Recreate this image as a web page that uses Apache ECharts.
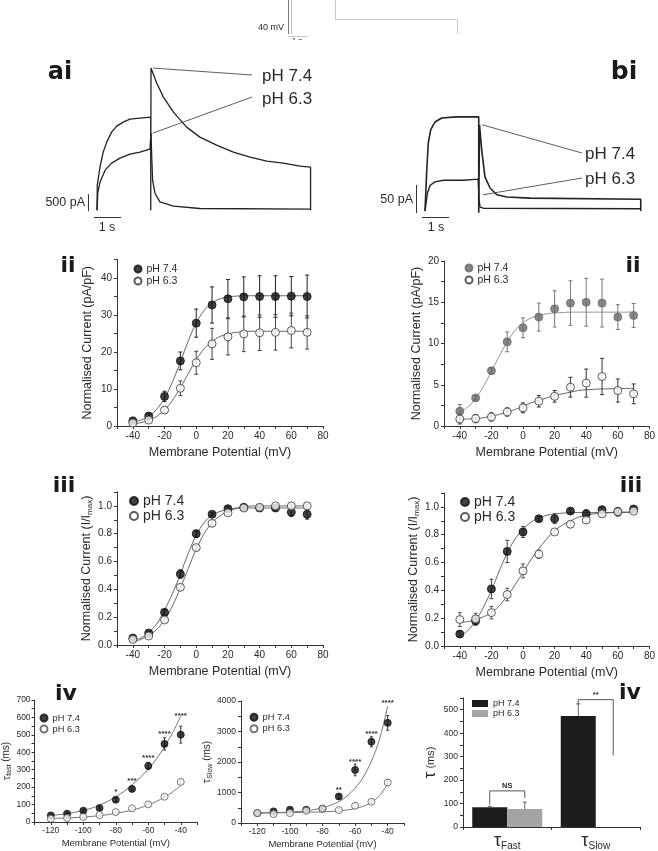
<!DOCTYPE html>
<html><head><meta charset="utf-8">
<script src="https://cdn.jsdelivr.net/npm/echarts@6/dist/echarts.min.js"></script>
<style>html,body{margin:0;padding:0;background:#fff}#c{width:658px;height:851px}</style>
</head><body><div id="c"></div>
<script>
// ---------------- DATA ----------------
// Current traces (time s, current pA)
const aiT74 = [0,0.01,0.11,0.23,0.36,0.54,0.73,0.97,1.22,1.59,1.99,1.99,2.0,2.21,2.46,2.83,3.32,3.81,4.43,5.05,5.67,6.29,6.90,7.52,7.91,7.91];
const aiI74 = [0,735,1264,1705,2000,2293,2470,2587,2675,2705,2734,0,4175,3734,3322,2881,2440,2146,1911,1705,1558,1440,1382,1294,1264,0];
const aiT63 = [0,0.03,0.11,0.30,0.54,0.85,1.22,1.59,1.96,2.0,2.03,2.06,2.15,2.33,2.83,3.81,7.91];
const aiI63 = [0,500,823,1176,1382,1529,1646,1705,1793,2264,1500,882,491,244,118,50,29];
const biT74 = [0,0.06,0.12,0.21,0.37,0.62,1.17,1.67,1.99,1.99,2.02,2.10,2.22,2.41,2.66,3.03,3.89,7.99,7.99];
const biI74 = [0,68,121,145,159,166,168,168,168,-3,154,109,61,41,29,25,23,21,0];
const biT63 = [0,0.09,0.19,0.37,0.68,1.42,1.97,2.0,2.04,2.16,7.99];
const biI63 = [0,32,46,52,55,55,57,20,7,5,4];
const aiArrowTo = [[2.07,4175],[2.07,2264]];
const biArrowTo = [[2.11,154],[2.15,29]];

// I-V data
const V = [-40,-30,-20,-10,0,10,20,30,40,50,60,70];
const VF = [-40,-35,-30,-25,-20,-15,-10,-5,0,5,10,15,20,25,30,35,40,45,50,55,60,65,70];
const iiA74 = [1.4,2.7,8.0,17.6,27.8,32.7,34.4,34.9,35.0,35.0,35.1,35.0];
const iiA74e = [0.4,0.6,1.4,2.4,3.8,4.9,5.2,5.4,5.6,5.6,5.3,5.8];
const iiA63 = [0.8,1.6,4.3,10.2,17.1,22.2,24.1,24.9,25.2,25.3,25.8,25.3];
const iiA63e = [0.3,0.4,0.8,2.0,3.1,4.2,4.9,4.8,4.8,4.8,4.7,4.5];
const iiA74fit = [1.0,1.6,2.6,4.5,7.5,11.9,17.3,23.0,27.9,31.2,33.3,34.4,34.9,35.1,35.2,35.2,35.2,35.2,35.2,35.2,35.2,35.2,35.2];
const iiA63fit = [0.5,0.9,1.5,2.6,4.3,6.9,10.3,14.2,17.9,20.9,22.9,24.2,24.9,25.3,25.5,25.6,25.6,25.6,25.6,25.6,25.6,25.6,25.6];

const iiB74 = [1.8,3.4,6.7,10.2,11.9,13.2,14.2,14.9,15.0,14.9,13.2,13.4];
const iiB74e = [0.8,0.25,0.35,1.2,1.2,1.7,2.2,2.7,2.9,2.9,1.5,1.45];
const iiB63 = [0.85,0.9,1.1,1.7,2.2,3.0,3.6,4.7,5.2,6.0,4.3,3.9];
const iiB63e = [0.6,0.5,0.5,0.5,0.6,0.7,0.7,1.2,1.7,2.2,1.4,1.2];
const iiB74fit = [1.6,2.3,3.3,4.8,6.6,8.5,10.2,11.6,12.5,13.1,13.4,13.6,13.7,13.75,13.8,13.8,13.8,13.8,13.8,13.8,13.8,13.8,13.8];
const iiB63fit = [0.8,0.85,0.9,1.0,1.2,1.4,1.7,2.0,2.4,2.8,3.1,3.4,3.7,3.9,4.1,4.3,4.4,4.45,4.5,4.5,4.55,4.55,4.55];

const iiiA74 = [0.05,0.086,0.235,0.51,0.80,0.94,0.98,0.99,0.985,0.985,0.955,0.94];
const iiiA74e = [0.01,0.01,0.02,0.03,0.025,0.012,0.012,0.012,0.012,0.015,0.03,0.035];
const iiiA63 = [0.04,0.065,0.18,0.415,0.70,0.875,0.95,0.985,0.99,1.0,1.0,1.0];
const iiiA63e = [0.01,0.01,0.015,0.02,0.015,0.02,0.015,0.012,0.012,0.012,0.012,0.012];
const iiiA74fit = [0.03,0.05,0.09,0.15,0.25,0.37,0.51,0.66,0.79,0.88,0.935,0.96,0.975,0.985,0.985,0.985,0.985,0.985,0.985,0.985,0.985,0.985,0.985];
const iiiA63fit = [0.02,0.04,0.07,0.11,0.18,0.28,0.41,0.55,0.69,0.80,0.88,0.93,0.96,0.98,0.99,1.0,1.0,1.0,1.0,1.0,1.0,1.0,1.0];

const iiiB74 = [0.086,0.18,0.41,0.68,0.82,0.915,0.915,0.97,0.95,0.98,0.965,0.985];
const iiiB74e = [0.02,0.03,0.07,0.08,0.04,0.015,0.035,0.015,0.03,0.02,0.03,0.015];
const iiiB63 = [0.19,0.195,0.24,0.37,0.54,0.66,0.82,0.875,0.905,0.95,0.965,0.97];
const iiiB63e = [0.05,0.04,0.045,0.045,0.05,0.03,0.012,0.02,0.02,0.015,0.03,0.012];
const iiiB74fit = [0.07,0.11,0.18,0.28,0.40,0.54,0.67,0.77,0.84,0.89,0.92,0.94,0.95,0.955,0.96,0.96,0.96,0.96,0.96,0.96,0.96,0.96,0.96];
const iiiB63fit = [0.17,0.175,0.19,0.21,0.24,0.29,0.36,0.44,0.53,0.62,0.70,0.77,0.83,0.87,0.90,0.925,0.94,0.95,0.955,0.958,0.96,0.963,0.965];

// time constants
const V4 = [-120,-110,-100,-90,-80,-70,-60,-50,-40];
const V4F = [-120,-115,-110,-105,-100,-95,-90,-85,-80,-75,-70,-65,-60,-55,-50,-45,-40];
const tauF74 = [38,48,65,80,128,190,322,448,501];
const tauF74e = [8,8,10,8,10,10,20,35,48];
const tauF63 = [19,23,29,40,57,78,101,145,230];
const tauF63e = [4,4,5,5,6,6,8,8,12];
const tauF74fit = [38,42,48,56,66,79,97,118,145,175,213,255,303,362,432,512,607];
const tauF63fit = [20,21.5,23,25.5,28,32,36,42,50,58,68,81,98,118,142,172,210];
const tauFStarV = [-80,-70,-60,-50,-40];
const tauFStarY = [172,238,370,508,607];
const tauFStarTxt = ['*','***','****','****','****'];

const tauS74 = [326,380,435,435,470,870,1739,2663,3283];
const tauS74e = [40,40,50,50,50,60,190,163,240];
const tauS63 = [326,293,326,402,467,424,565,696,1326];
const tauS63e = [40,40,50,50,50,50,80,60,100];
const tauS74fit = [330,333,338,345,357,375,400,440,495,580,700,880,1140,1500,2020,2750,3830];
const tauS63fit = [330,332,334,337,340,345,350,357,365,378,395,425,475,550,675,900,1290];
const tauSStarV = [-70,-60,-50,-40];
const tauSStarY = [1080,2000,2930,3930];
const tauSStarTxt = ['**','****','****','****'];

// bar chart
const barCats = ['τFast','τSlow'];
const bar74 = [84,473];
const bar74e = [4,52];
const bar63 = [77,null];
const bar63e = [29,null];
const bracketCat = [0,1];
const bracketTop = [154,543];
const bracketLeftEnd = [95,522];
const bracketRightEnd = [123,305];
const bracketTxt = ['NS','**'];

// ---------------- HELPERS ----------------
const chart = echarts.init(document.getElementById('c'), null, {renderer:'canvas', width:658, height:851});
const FONT = '"Liberation Sans", Arial, sans-serif';
const ink = '#2a2a2a';
const zip = (a,b) => a.map((x,i)=>[x,b[i]]);

function vAxis(grid, min, max, labels, ticks, o) {
  o = o || {};
  return {type:'value', gridIndex:grid, min:min, max:max,
    name:o.name||'', nameLocation:'middle', nameGap:o.nameGap||20,
    nameTextStyle:Object.assign({color:ink, fontFamily:FONT, fontSize:o.nameSize||12.5}, o.nameStyle||{}),
    axisLine:{show:true, onZero:false, lineStyle:{color:'#333', width:1}},
    axisTick:{show:true, length:3, customValues:ticks, lineStyle:{color:'#333', width:1}},
    axisLabel:{show:true, customValues:labels, color:ink, fontFamily:FONT, fontSize:o.labelSize||10, margin:o.margin||5,
      formatter:o.fmt||(v=>String(v))},
    splitLine:{show:false}};
}
function hAxis(grid, min, max){ return {type:'value', gridIndex:grid, min:min, max:max, show:false, splitLine:{show:false}}; }

function traceLine(grid, t, I, w){
  return {type:'line', xAxisIndex:grid, yAxisIndex:grid, data:zip(t,I), symbol:'none', silent:true,
    lineStyle:{color:'#222', width:w||1.2}, z:2};
}
function scatter(name, grid, xs, ys, filled, color, size){
  return {type:'scatter', name:name, xAxisIndex:grid, yAxisIndex:grid, data:zip(xs,ys), symbol:'circle', symbolSize:size||8, silent:true, z:5,
    itemStyle: filled ? {color:color, borderColor:color, borderWidth:1} : {color:'#fff', borderColor:color, borderWidth:1}};
}
function fit(grid, xs, ys, color){
  return {type:'line', xAxisIndex:grid, yAxisIndex:grid, data:zip(xs,ys), symbol:'none', smooth:0.3, silent:true,
    lineStyle:{color:color||'#555', width:0.9}, z:2};
}
function errs(grid, xs, ys, es, color, cap){
  cap = cap||2;
  return {type:'custom', xAxisIndex:grid, yAxisIndex:grid, silent:true, z:3,
    data: xs.map((x,i)=>[x, ys[i], es[i]]),
    renderItem:(p, api)=>{
      const x=api.value(0), y=api.value(1), e=api.value(2);
      const t=api.coord([x,y+e]), b=api.coord([x,y-e]);
      const st={stroke:color, lineWidth:1};
      return {type:'group', children:[
        {type:'line', shape:{x1:t[0],y1:t[1],x2:b[0],y2:b[1]}, style:st},
        {type:'line', shape:{x1:t[0]-cap,y1:t[1],x2:t[0]+cap,y2:t[1]}, style:st},
        {type:'line', shape:{x1:b[0]-cap,y1:b[1],x2:b[0]+cap,y2:b[1]}, style:st}]};
    }};
}
function texts(grid, xs, ys, txt, size){
  return {type:'custom', xAxisIndex:grid, yAxisIndex:grid, silent:true, z:6,
    data: xs.map((x,i)=>[x, ys[i]]),
    renderItem:(p, api)=>{
      const c = api.coord([api.value(0), api.value(1)]);
      return {type:'text', x:c[0], y:c[1], style:{text:txt[p.dataIndex], fill:ink, fontSize:size||8, fontFamily:FONT, fontWeight:'bold', align:'center', verticalAlign:'middle'}};
    }};
}
const legFmt = n => n.indexOf('74')>=0 ? 'pH 7.4' : 'pH 6.3';
function mkLegend(names, left, top, fs, lh, icon, iw, ih){
  return {data:names, left:left, top:top, orient:'vertical', padding:0, itemGap:0, itemWidth:iw||7, itemHeight:ih||7,
    icon:icon||'circle', selectedMode:false, formatter:legFmt,
    textStyle:{color:ink, fontFamily:FONT, fontSize:fs, lineHeight:lh}};
}

const xIV = [-40,-20,0,20,40,60,80];
const xIVt = [-50,-40,-30,-20,-10,0,10,20,30,40,50,60,70,80];
const xTau = [-120,-100,-80,-60,-40];
const xTauT = [-130,-120,-110,-100,-90,-80,-70,-60,-50,-40,-30];
const f1 = v => v.toFixed(1);
const iiiName = '{a|Normalised Current (I/I}{s|max}{a|)}';
const iiiRich = {rich:{a:{fontSize:12.5, fontFamily:FONT, color:ink}, s:{fontSize:8, fontFamily:FONT, color:ink, padding:[7,0,0,0]}}};

const option = {
  animation:false,
  backgroundColor:'#fff',
  grid:[
    {left:97, top:57, width:216, height:160},
    {left:425, top:99, width:216, height:117.6},
    {left:117, top:259.5, width:206, height:166.5},
    {left:444, top:261, width:206, height:165},
    {left:117, top:492, width:206, height:153},
    {left:444, top:493, width:206, height:153},
    {left:31, top:700, width:166, height:122},
    {left:241, top:701, width:163, height:122},
    {left:463, top:698, width:177, height:131}
  ],
  xAxis:[
    hAxis(0,0,8), hAxis(1,0,8),
    vAxis(2,-50,80,xIV,xIVt,{name:'Membrane Potential (mV)', nameGap:20}),
    vAxis(3,-50,80,xIV,xIVt,{name:'Membrane Potential (mV)', nameGap:20}),
    vAxis(4,-50,80,xIV,xIVt,{name:'Membrane Potential (mV)', nameGap:20}),
    vAxis(5,-50,80,xIV,xIVt,{name:'Membrane Potential (mV)', nameGap:20}),
    vAxis(6,-130,-30,xTau,xTauT,{name:'Membrane Potential (mV)', nameGap:16, nameSize:9.5, labelSize:8.5, margin:4}),
    vAxis(7,-130,-30,xTau,xTauT,{name:'Membrane Potential (mV)', nameGap:16, nameSize:9.5, labelSize:8.5, margin:4}),
    {type:'category', gridIndex:8, data:barCats,
      axisLine:{show:true, lineStyle:{color:'#333'}}, axisTick:{show:true, length:3, lineStyle:{color:'#333'}},
      axisLabel:{margin:5, formatter:v=>'{t|τ}{s|'+v.slice(1)+'}',
        rich:{t:{fontSize:18, fontFamily:FONT, color:ink}, s:{fontSize:10, fontFamily:FONT, color:ink, padding:[9,0,0,0]}}}}
  ],
  yAxis:[
    hAxis(0,-200,4500), hAxis(1,-10,200),
    vAxis(2,0,45,[0,10,20,30,40],[0,5,10,15,20,25,30,35,40,45],{name:'Normalised Current (pA/pF)', nameGap:23}),
    vAxis(3,0,20,[0,5,10,15,20],[0,2.5,5,7.5,10,12.5,15,17.5,20],{name:'Normalised Current (pA/pF)', nameGap:21}),
    vAxis(4,0,1.1,[0,0.2,0.4,0.6,0.8,1.0],[0,0.1,0.2,0.3,0.4,0.5,0.6,0.7,0.8,0.9,1.0,1.1],{name:iiiName, nameGap:22, nameStyle:iiiRich, fmt:f1}),
    vAxis(5,0,1.1,[0,0.2,0.4,0.6,0.8,1.0],[0,0.1,0.2,0.3,0.4,0.5,0.6,0.7,0.8,0.9,1.0,1.1],{name:iiiName, nameGap:21, nameStyle:iiiRich, fmt:f1}),
    vAxis(6,0,700,[0,100,200,300,400,500,600,700],[0,50,100,150,200,250,300,350,400,450,500,550,600,650,700],
      {name:'{t|τ}{s|fast}{a| (ms)}', nameGap:18, labelSize:8.5, margin:4,
       nameStyle:{rich:{t:{fontSize:11,fontFamily:FONT,color:ink}, s:{fontSize:7,fontFamily:FONT,color:ink,padding:[5,0,0,0]}, a:{fontSize:10,fontFamily:FONT,color:ink}}}}),
    vAxis(7,0,4000,[0,1000,2000,3000,4000],[0,500,1000,1500,2000,2500,3000,3500,4000],
      {name:'{t|τ}{s|Slow}{a| (ms)}', nameGap:24, labelSize:8.5, margin:5,
       nameStyle:{rich:{t:{fontSize:11,fontFamily:FONT,color:ink}, s:{fontSize:7,fontFamily:FONT,color:ink,padding:[5,0,0,0]}, a:{fontSize:10,fontFamily:FONT,color:ink}}}}),
    vAxis(8,0,550,[0,100,200,300,400,500],[0,50,100,150,200,250,300,350,400,450,500,550],
      {name:'{t|τ}{a| (ms)}', nameGap:24, labelSize:8.5, margin:5,
       nameStyle:{rich:{t:{fontSize:17,fontFamily:FONT,color:ink}, a:{fontSize:11,fontFamily:FONT,color:ink}}}})
  ],
  legend:[
    mkLegend(['iiA74','iiA63'],133.5,263,10.5,12),
    mkLegend(['iiB74','iiB63'],464.5,262,10.5,12),
    mkLegend(['iiiA74','iiiA63'],129,493.5,14,15,'circle',8,8),
    mkLegend(['iiiB74','iiiB63'],460,494.5,14,15,'circle',8,8),
    mkLegend(['tF74','tF63'],39.5,712.5,9.3,11),
    mkLegend(['tS74','tS63'],249.5,711.5,9.3,11.5),
    mkLegend(['bar74','bar63'],472,698.5,9,10,'rect',16,7)
  ],
  series:[
    Object.assign(traceLine(0,aiT74,aiI74,1.3), {markLine:{silent:true, symbol:['none','arrow'], symbolSize:[0,6], label:{show:false},
      lineStyle:{color:'#333', width:0.8, type:'solid'},
      data:[[{x:252,y:75},{coord:aiArrowTo[0]}],[{x:252,y:97},{coord:aiArrowTo[1]}]]}}),
    traceLine(0,aiT63,aiI63,1.3),
    Object.assign(traceLine(1,biT74,biI74,1.6), {markLine:{silent:true, symbol:['none','arrow'], symbolSize:[0,6], label:{show:false},
      lineStyle:{color:'#333', width:0.8, type:'solid'},
      data:[[{x:582,y:153},{coord:biArrowTo[0]}],[{x:582,y:178},{coord:biArrowTo[1]}]]}}),
    traceLine(1,biT63,biI63,1.4),
    fit(2,VF,iiA74fit), fit(2,VF,iiA63fit),
    errs(2,V,iiA74,iiA74e,'#222'), errs(2,V,iiA63,iiA63e,'#444'),
    scatter('iiA74',2,V,iiA74,true,'#111'), scatter('iiA63',2,V,iiA63,false,'#333'),
    fit(3,VF,iiB74fit,'#8a8a8a'), fit(3,VF,iiB63fit,'#555'),
    errs(3,V,iiB74,iiB74e,'#777'), errs(3,V,iiB63,iiB63e,'#333'),
    scatter('iiB74',3,V,iiB74,true,'#6a6a6a'), scatter('iiB63',3,V,iiB63,false,'#333'),
    fit(4,VF,iiiA74fit), fit(4,VF,iiiA63fit),
    errs(4,V,iiiA74,iiiA74e,'#222'), errs(4,V,iiiA63,iiiA63e,'#444'),
    scatter('iiiA74',4,V,iiiA74,true,'#111'), scatter('iiiA63',4,V,iiiA63,false,'#333'),
    fit(5,VF,iiiB74fit), fit(5,VF,iiiB63fit),
    errs(5,V,iiiB74,iiiB74e,'#444'), errs(5,V,iiiB63,iiiB63e,'#555'),
    scatter('iiiB74',5,V,iiiB74,true,'#111'), scatter('iiiB63',5,V,iiiB63,false,'#333'),
    fit(6,V4F,tauF74fit,'#666'), fit(6,V4F,tauF63fit,'#666'),
    errs(6,V4,tauF74,tauF74e,'#333',1.5), errs(6,V4,tauF63,tauF63e,'#555',1.5),
    scatter('tF74',6,V4,tauF74,true,'#111',7), scatter('tF63',6,V4,tauF63,false,'#555',7),
    texts(6,tauFStarV,tauFStarY,tauFStarTxt,8),
    fit(7,V4F,tauS74fit,'#666'), fit(7,V4F,tauS63fit,'#666'),
    errs(7,V4,tauS74,tauS74e,'#333',1.5), errs(7,V4,tauS63,tauS63e,'#555',1.5),
    scatter('tS74',7,V4,tauS74,true,'#111',7), scatter('tS63',7,V4,tauS63,false,'#555',7),
    texts(7,tauSStarV,tauSStarY,tauSStarTxt,8),
    {type:'bar', name:'bar74', xAxisIndex:8, yAxisIndex:8, data:bar74, barWidth:35, barGap:'0%', silent:true,
      itemStyle:{color:'#1c1c1c'}, z:2},
    {type:'bar', name:'bar63', xAxisIndex:8, yAxisIndex:8, data:bar63, barWidth:35, barGap:'0%', silent:true,
      itemStyle:{color:'#a4a4a4'}, z:2},
    {type:'custom', xAxisIndex:8, yAxisIndex:8, silent:true, z:4,
      data: bar74.map((v,i)=>[i, v, bar74e[i], -1]).concat(bar63.map((v,i)=>[i, v, bar63e[i], 1])).filter(d=>d[1]!=null),
      renderItem:(p, api)=>{
        const half = 17.5;
        const b = api.coord([api.value(0), api.value(1)]), t = api.coord([api.value(0), api.value(1)+api.value(2)]);
        const x = b[0] + api.value(3)*half;
        const st = {stroke:'#666', lineWidth:1};
        return {type:'group', children:[
          {type:'line', shape:{x1:x,y1:b[1],x2:x,y2:t[1]}, style:st},
          {type:'line', shape:{x1:x-2,y1:t[1],x2:x+2,y2:t[1]}, style:st}]};
      }},
    {type:'custom', xAxisIndex:8, yAxisIndex:8, silent:true, z:4,
      data: bracketCat.map((c,i)=>[c, bracketTop[i], bracketLeftEnd[i], bracketRightEnd[i]]),
      renderItem:(p, api)=>{
        const half = 17.5;
        const c = api.coord([api.value(0), api.value(1)]);
        const l = api.coord([api.value(0), api.value(2)]);
        const r = api.coord([api.value(0), api.value(3)]);
        return {type:'group', children:[
          {type:'polyline', shape:{points:[[c[0]-half,l[1]],[c[0]-half,c[1]],[c[0]+half,c[1]],[c[0]+half,r[1]]]}, style:{stroke:'#555', lineWidth:1, fill:null}},
          {type:'text', x:c[0], y:c[1]-5, style:{text:bracketTxt[p.dataIndex], fill:ink, fontSize:7.5, fontFamily:FONT, fontWeight:'bold', align:'center', verticalAlign:'middle'}}]};
      }}
  ]
};
chart.setOption(option);

// ---------------- ANNOTATIONS ----------------
const px = (g, v) => chart.convertToPixel({gridIndex:g}, v);
const aiZero = px(0,[0,0]), ai500 = px(0,[0,500]), ai1s = px(0,[1,0]);
const biZero = px(1,[0,0]), bi50 = px(1,[0,50]), bi1s = px(1,[1,0]);
const L500 = aiZero[1]-ai500[1], LaiS = ai1s[0]-aiZero[0];
const L50 = biZero[1]-bi50[1], LbiS = bi1s[0]-biZero[0];
const BOLD = '"DejaVu Sans", sans-serif';
const gline = (x1,y1,x2,y2,c,w) => ({type:'line', shape:{x1:x1,y1:y1,x2:x2,y2:y2}, style:{stroke:c||'#222', lineWidth:w||1}, silent:true});
const gtxt = (x,y,s,fs,o) => ({type:'text', x:x, y:y, silent:true, style:Object.assign({text:s, fill:ink, fontSize:fs, fontFamily:FONT, align:'center', verticalAlign:'middle'}, o||{})});
const big = (x,y,s,fs) => gtxt(x,y,s,fs,{fontFamily:BOLD, fontWeight:'bold', fill:'#1a1a1a'});

chart.setOption({graphic:[
  gline(288.5,0,288.5,34,'#777',1), gline(291.5,0,291.5,34,'#bbb',1), gline(288,36.5,308,36.5,'#ccc',1),
  {type:'polyline', silent:true, shape:{points:[[335.5,0],[335.5,19.5],[457.5,19.5],[457.5,34]]}, style:{stroke:'#ccc', lineWidth:1, fill:null}},
  gtxt(284,28,'40 mV',9,{align:'right'}),
  gtxt(297,41,'1 s',8,{align:'center'}),
  {type:'rect', silent:true, z:100, shape:{x:285,y:40,width:30,height:8}, style:{fill:'#fff'}},
  big(60,73,'ai',24), big(624,72,'bi',25),
  big(68,266,'ii',22), big(633,266,'ii',22),
  big(64,486,'iii',22), big(631,486,'iii',22),
  big(66,694,'iv',22), big(630,693,'iv',22),
  gtxt(262,76,'pH 7.4',17,{align:'left'}), gtxt(262,99,'pH 6.3',17,{align:'left'}),
  gtxt(585,154,'pH 7.4',17,{align:'left'}), gtxt(585,179,'pH 6.3',17,{align:'left'}),
  gline(88.5,aiZero[1]+1-L500,88.5,aiZero[1]+1,'#333',1), gline(94,217.5,94+LaiS,217.5,'#333',1),
  gtxt(85,203,'500 pA',12.5,{align:'right'}), gtxt(107,227.5,'1 s',12.5),
  gline(416.5,biZero[1]+2-L50,416.5,biZero[1]+2,'#333',1), gline(422,217.5,422+LbiS,217.5,'#333',1),
  gtxt(413,200,'50 pA',12.5,{align:'right'}), gtxt(436,228,'1 s',12.5)
]});
</script></body></html>
